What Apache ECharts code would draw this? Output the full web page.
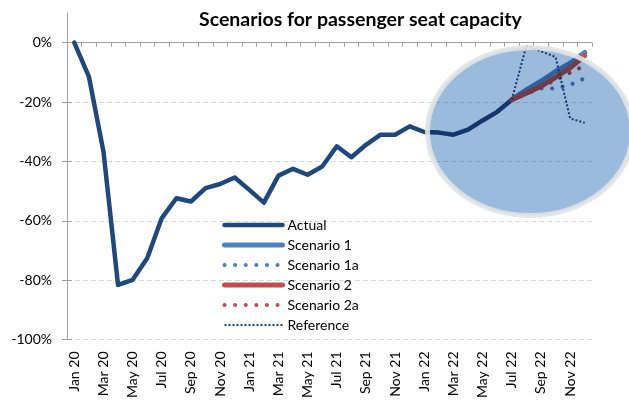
<!DOCTYPE html>
<html>
<head>
<meta charset="utf-8">
<script src="https://cdn.jsdelivr.net/npm/echarts@6/dist/echarts.min.js"></script>
<style>
  html, body { margin: 0; padding: 0; background: #fff; }
  #main { width: 629px; height: 403px; }
</style>
</head>
<body>
<div id="main"></div>
<script>
const months = [
  'Jan 20', 'Feb 20', 'Mar 20', 'Apr 20', 'May 20', 'Jun 20', 'Jul 20', 'Aug 20', 'Sep 20', 'Oct 20', 'Nov 20', 'Dec 20',
  'Jan 21', 'Feb 21', 'Mar 21', 'Apr 21', 'May 21', 'Jun 21', 'Jul 21', 'Aug 21', 'Sep 21', 'Oct 21', 'Nov 21', 'Dec 21',
  'Jan 22', 'Feb 22', 'Mar 22', 'Apr 22', 'May 22', 'Jun 22', 'Jul 22', 'Aug 22', 'Sep 22', 'Oct 22', 'Nov 22', 'Dec 22'
];
// Jan 20 .. Jul 22
const actual = [
  0, -11.4, -36.7, -81.6, -79.9, -72.6, -59.1, -52.4, -53.5, -49.0, -47.6, -45.4,
  -49.6, -53.9, -44.8, -42.5, -44.5, -41.7, -34.9, -38.6, -34.4, -31.0, -31.0, -28.2,
  -30.1, -30.3, -31.0, -29.3, -26.2, -23.3, -19.2
];
// Jul 22 .. Dec 22
const scenario1 = [-19.2, -15.9, -13.0, -9.7, -6.9, -3.3];
const scenario1a = [-19.2, -17.2, -15.4, -15.5, -14.2, -12.0];
const scenario2 = [-19.2, -17.0, -14.7, -11.7, -8.5, -4.4];
const scenario2a = [-19.2, -16.9, -14.8, -12.6, -10.1, -7.7];
const reference = [-19.2, -1.0, -2.9, -4.8, -25.5, -27.0];
const yTicks = [-100, -80, -60, -40, -20, 0];

const startAt = 30; // Jul 22
const pad = arr => Array(startAt).fill(null).concat(arr);
const font = 'Lato';
const axisGrey = '#A0A0A0';

const chart = echarts.init(document.getElementById('main'));

const lineSeries = (name, data, color, width, type, cap) => ({
  name: name,
  type: 'line',
  data: data,
  symbol: 'none',
  animation: false,
  itemStyle: { color: color },
  lineStyle: { color: color, width: width, type: type, cap: cap, join: 'round' }
});

let option = {
  backgroundColor: '#fff',
  title: {
    text: 'Scenarios for passenger seat capacity',
    left: 194,
    top: 5,
    textStyle: { fontFamily: font, fontSize: 19.5, fontWeight: 'bold', color: '#000' }
  },
  legend: {
    orient: 'vertical',
    left: 222,
    top: 218,
    padding: 0,
    itemWidth: 58,
    itemHeight: 14,
    itemGap: 6,
    textStyle: { fontFamily: font, fontSize: 14, color: '#000' },
    itemStyle: { opacity: 0 },
    lineStyle: { width: 'inherit', type: 'inherit', cap: 'inherit' },
    data: ['Actual', 'Scenario 1', 'Scenario 1a', 'Scenario 2', 'Scenario 2a', 'Reference']
  },
  grid: { left: 67, right: 37, top: 13, bottom: 63.5 },
  xAxis: [
    {
      type: 'category',
      data: months,
      position: 'bottom',
      boundaryGap: true,
      axisLine: { show: false, onZero: false },
      axisTick: { show: false },
      axisLabel: { rotate: 90, interval: 1, margin: 12, fontFamily: font, fontSize: 14, color: '#000' },
      splitLine: { show: false }
    },
    {
      type: 'category',
      data: months,
      position: 'top',
      boundaryGap: true,
      axisLine: { show: true, onZero: true, onZeroAxisIndex: 0, lineStyle: { color: axisGrey, width: 1 } },
      axisTick: { show: true, inside: true, length: 4, interval: 0, lineStyle: { color: axisGrey } },
      axisLabel: { show: false },
      splitLine: { show: false }
    }
  ],
  yAxis: [
    {
      type: 'value',
      min: -100,
      max: 10,
      interval: 20,
      position: 'left',
      axisLine: { show: true, lineStyle: { color: axisGrey } },
      axisTick: { show: true, length: 5, customValues: yTicks, lineStyle: { color: axisGrey } },
      axisLabel: {
        customValues: yTicks,
        margin: 15,
        fontFamily: font,
        fontSize: 14,
        color: '#000',
        formatter: v => v + '%'
      },
      splitLine: { show: true, showMaxLine: false, lineStyle: { color: '#D9D9D9', type: [5, 3], width: 1 } }
    },
    {
      type: 'value',
      min: -100,
      max: 10,
      interval: 20,
      position: 'left',
      axisLine: { show: false },
      axisTick: { show: true, inside: true, length: 5, customValues: yTicks, lineStyle: { color: axisGrey } },
      axisLabel: { show: false },
      splitLine: { show: false }
    }
  ],
  series: [
    lineSeries('Actual', actual, '#1F497D', 4.5, 'solid', 'round'),
    lineSeries('Scenario 1', pad(scenario1), '#4F81BD', 5, 'solid', 'round'),
    lineSeries('Scenario 1a', pad(scenario1a), '#4F81BD', 4, [0.1, 10.5], 'round'),
    lineSeries('Scenario 2', pad(scenario2), '#C0504D', 5, 'solid', 'round'),
    lineSeries('Scenario 2a', pad(scenario2a), '#C0504D', 4, [0.1, 10.5], 'round'),
    lineSeries('Reference', pad(reference), '#1F497D', 2, [2, 2], 'butt')
  ],
  graphic: [
    {
      type: 'ellipse',
      z: 100,
      silent: true,
      shape: { cx: 530, cy: 131.5, rx: 102.5, ry: 84 },
      style: { fill: '#9BBBDC', blend: 'multiply' }
    },
    {
      type: 'ellipse',
      z: 101,
      silent: true,
      shape: { cx: 530, cy: 131.5, rx: 102.5, ry: 84 },
      style: { fill: 'none', stroke: 'rgba(224,228,229,0.9)', lineWidth: 5 }
    }
  ]
};

chart.setOption(option);
</script>
</body>
</html>
